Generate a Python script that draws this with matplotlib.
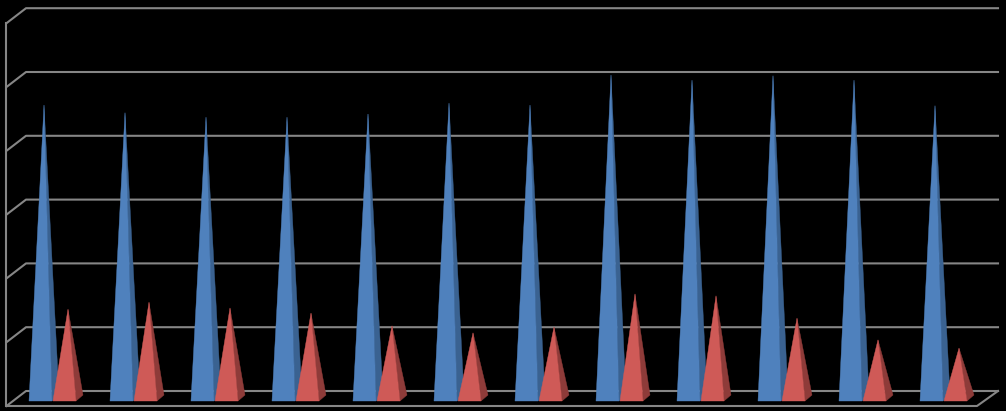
import numpy as np
import matplotlib
matplotlib.use("Agg")
import matplotlib.pyplot as plt
from matplotlib.patches import Polygon

categories = list(range(1, 13))
series_blue = [4.56, 4.44, 4.37, 4.37, 4.42, 4.59, 4.56, 5.03, 4.95, 5.02, 4.95, 4.55]
series_red = [1.36, 1.47, 1.38, 1.30, 1.10, 0.99, 1.08, 1.60, 1.57, 1.22, 0.88, 0.75]
grid_levels = [0, 1, 2, 3, 4, 5, 6]

W, H = 1006, 411
STEP_PX, UNIT_PX = 81.0, 63.8
X0_PX, Y0_PX = 44.0, 391.0          # first category centre, back-wall zero


def px_x(p):
    return (p - X0_PX) / STEP_PX + 1


def px_y(p):
    return (Y0_PX - p) / UNIT_PX


fig = plt.figure(figsize=(W / 100, H / 100), dpi=100, facecolor="black")
ax = fig.add_axes([0, 0, 1, 1], facecolor="black")
ax.set_xlim(px_x(0), px_x(W))
ax.set_ylim(px_y(H), px_y(0))
ax.axis("off")

dx = 1 / STEP_PX
dy = 1 / UNIT_PX
GRID = "#868686"
lw = 1.5
left_front, left_back = px_x(6.5), px_x(26)
right_back = px_x(998)
right_front = px_x(977)
depth = 15 * dy

for lv in grid_levels:
    ax.plot([left_front, left_back, right_back], [lv - depth, lv, lv],
            color=GRID, lw=lw, zorder=1, solid_joinstyle="round")
ax.plot([left_front, left_front], [-depth, grid_levels[-1] - depth], color=GRID, lw=lw, zorder=1)
ax.plot([left_front, right_front, right_back], [-depth, -depth, 0], color=GRID, lw=lw, zorder=1)


def pyramid(cx, value, front, side, z):
    apex_x, apex_y = cx, value - 5 * dy
    base_y = -10 * dy
    fl, fr, rb = cx - 15 * dx, cx + 8 * dx, cx + 15 * dx
    ax.add_patch(Polygon([(fl, base_y), (fr, base_y), (apex_x, apex_y)],
                         closed=True, fc=front, ec=front, lw=0.3, zorder=z + 0.1))
    ax.add_patch(Polygon([(fr, base_y), (rb, -4 * dy), (apex_x, apex_y)],
                         closed=True, fc=side, ec=side, lw=0.3, zorder=z))


for c, b, r in zip(categories, series_blue, series_red):
    pyramid(c, b, "#4F81BD", "#3A6291", 2)
    pyramid(c + 24 * dx, r, "#CF5A57", "#8E3B39", 3)

fig.savefig("out.png", dpi=100, facecolor="black")
